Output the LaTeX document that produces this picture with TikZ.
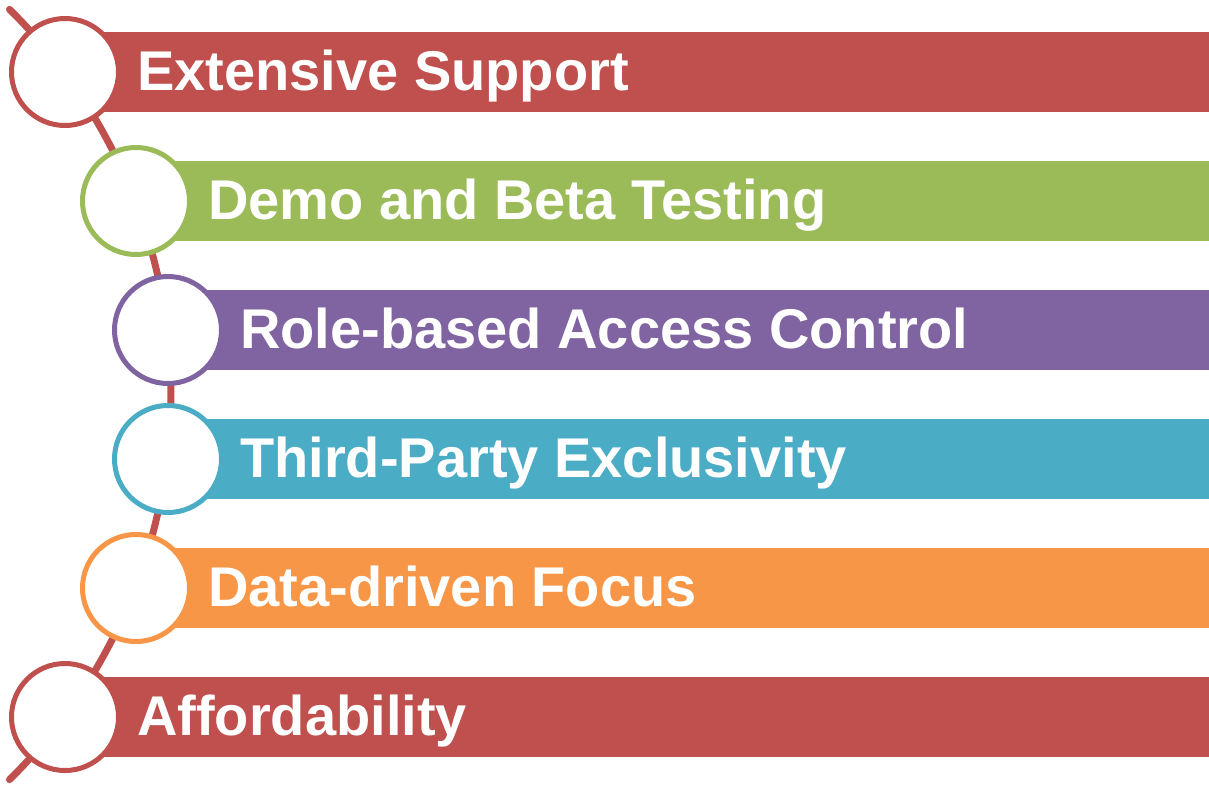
\documentclass[tikz,border=0pt]{standalone}
\usepackage{fontspec}
\setmainfont{Liberation Sans}
\usetikzlibrary{calc}
\definecolor{cred}{HTML}{C0504D}
\definecolor{cgreen}{HTML}{9BBB59}
\definecolor{cpurple}{HTML}{8064A2}
\definecolor{cteal}{HTML}{4BACC6}
\definecolor{corange}{HTML}{F79646}
\begin{document}
\begin{tikzpicture}[x=1pt,y=-1pt,
  ring/.style={circle,draw=#1,line width=5pt,fill=white,minimum size=107pt,inner sep=0pt},
  bar/.style={fill=#1},
  label/.style={anchor=base west,inner sep=0pt,text=white,font=\fontsize{56}{60}\bfseries\selectfont}]
\useasboundingbox (0,0) rectangle (1209,785);
% arc
\coordinate (ac) at (-369,394.5);
\draw[cred,line width=7pt,line cap=round] ($(ac)+(-45.5:540)$) arc[start angle=-45.5,end angle=45.5,radius=540];
% items
\foreach \i/\cx/\cy/\col/\txt in {
  1/65/72/cred/{Extensive Support},
  2/136/201/cgreen/{Demo and Beta Testing},
  3/168/330/cpurple/{Role-based Access Control},
  4/168/459/cteal/{Third-Party Exclusivity},
  5/136/588/corange/{Data-driven Focus},
  6/65/717/cred/{Affordability}}{
  \fill[bar=\col] (\cx,\cy-40) rectangle (1209,\cy+40);
  \node[ring=\col] (c\i) at (\cx,\cy) {};
  \node[label] (t\i) at (\cx+72,\cy+18) {\txt};
}
\end{tikzpicture}
\end{document}
